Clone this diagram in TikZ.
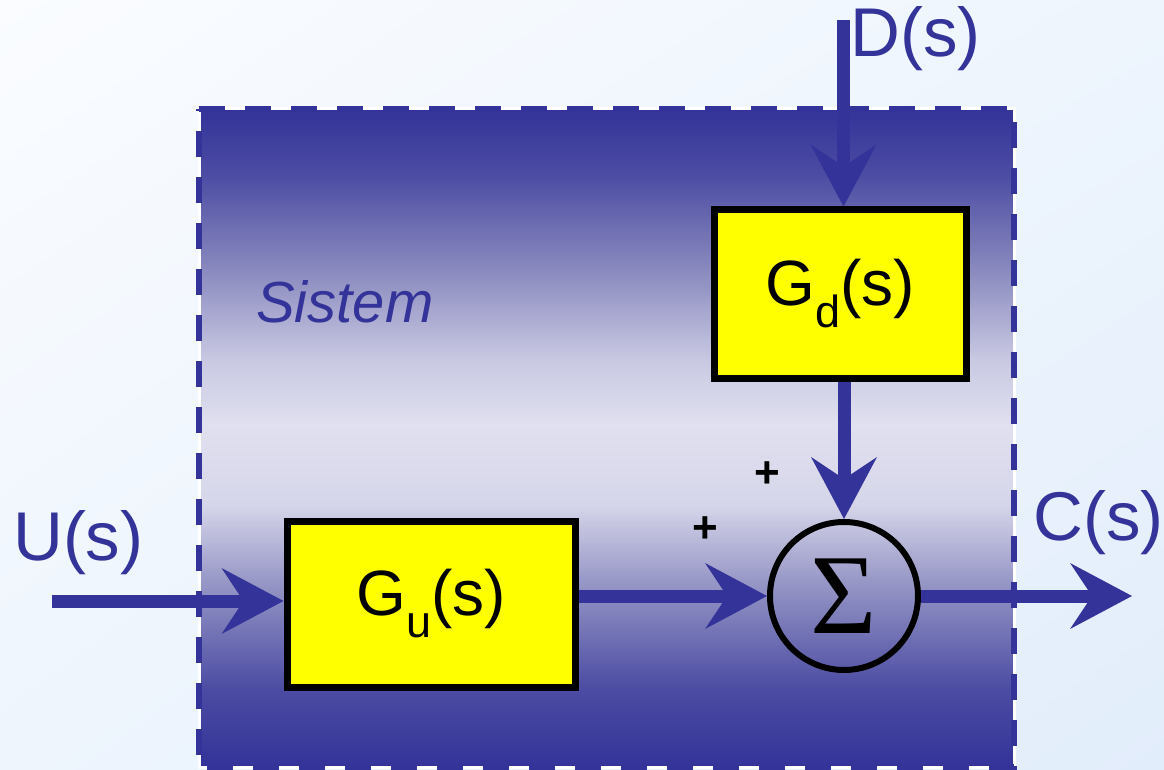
\documentclass[tikz,border=0pt]{standalone}
\usepackage{fontspec}
\setmainfont{Liberation Sans}
\newfontfamily\sigfont{Liberation Serif}
\usetikzlibrary{arrows.meta,shadings}
\definecolor{sysblue}{RGB}{51,51,153}
\definecolor{shA}{RGB}{76,76,163}
\definecolor{shB}{RGB}{140,140,192}
\definecolor{shC}{RGB}{200,200,226}
\definecolor{shD}{RGB}{224,224,240}
\definecolor{shE}{RGB}{214,214,234}
\definecolor{shF}{RGB}{150,150,198}
\definecolor{bgA}{RGB}{250,252,255}
\definecolor{bgB}{RGB}{238,245,253}
\definecolor{bgC}{RGB}{226,237,251}
\definecolor{boxyellow}{RGB}{255,255,0}
\pgfdeclareverticalshading{sysshade}{100bp}{color(0bp)=(sysblue); color(25bp)=(sysblue);
  color(31bp)=(shA); color(39bp)=(shF); color(45bp)=(shE); color(51bp)=(shD);
  color(56bp)=(shC); color(62.5bp)=(shB); color(70bp)=(shA); color(75bp)=(sysblue); color(100bp)=(sysblue)}
\tikzset{
  block/.style={draw=black, line width=7pt, fill=boxyellow, inner sep=0pt,
    font=\fontsize{64}{70}\selectfont},
  sumnode/.style={circle, draw=black, line width=6pt, minimum size=148pt, inner sep=0pt,
    font=\sigfont\fontsize{114}{120}\selectfont},
  flow/.style={draw=sysblue, line width=13pt,
    -{Stealth[length=62pt,width=66pt,inset=22pt,line width=0pt]}},
  lbl/.style={text=sysblue, font=\fontsize{69}{74}\selectfont, inner sep=0pt, anchor=base west},
  plussign/.style={text=black, font=\bfseries\fontsize{44}{48}\selectfont, inner sep=0pt}
}
\newcommand{\lowsub}[1]{\raisebox{-22pt}{\fontsize{45}{50}\selectfont #1}}
\begin{document}
\begin{tikzpicture}[x=1pt,y=-1pt]
\useasboundingbox (0,0) rectangle (1164,770);
\shade[upper left=bgA, upper right=bgB, lower left=bgB, lower right=bgC] (0,0) rectangle (1164,770);
% system box
\shade[shading=sysshade] (199,109) rectangle (1014,767);
\draw[white, line width=3pt] (199,109) rectangle (1014,767);
\draw[sysblue, line width=6pt, dash pattern=on 26pt off 20pt] (199,109) -- (1014,109) -- (1014,767) -- (199,767) -- cycle;
\node[anchor=base west, text=sysblue, font=\itshape\fontsize{58}{62}\selectfont, inner sep=0pt] (sis) at (256,322) {Sistem};
% blocks
\node[block, minimum width=288pt, minimum height=166pt] (gu) at (431,604) {G\lowsub{u}(s)};
\node[block, minimum width=252pt, minimum height=168pt] (gd) at (840,294) {G\lowsub{d}(s)};
\node[sumnode] (sig) at (844,596) {Σ};
% labels
\node[lbl] (dl) at (850,57) {D(s)};
\node[lbl] (ul) at (13,560) {U(s)};
\node[lbl] (cl) at (1033,540) {C(s)};
\node[plussign] (p1) at (767,475) {+};
\node[plussign] (p2) at (705,530) {+};
% connectors
\coordinate (uin) at (52,601);
\coordinate (din) at (843.5,20);
\coordinate (cout) at (1132,596);
\draw[flow] (uin) -- (uin -| gu.west);
\draw[flow] (gu.east |- sig.west) -- (sig.west);
\draw[flow] (sig.east) -- (cout);
\draw[flow] (din) -- (din |- gd.north);
\draw[flow] (sig.north |- gd.south) -- (sig.north);
\end{tikzpicture}
\end{document}
